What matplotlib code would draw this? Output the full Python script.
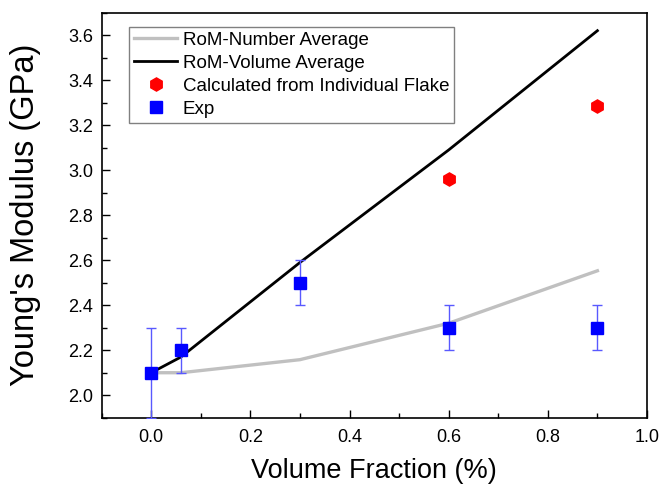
import matplotlib
matplotlib.use("Agg")
import matplotlib.pyplot as plt
from matplotlib.ticker import MultipleLocator, FormatStrFormatter

plt.rcParams['font.family'] = ['Liberation Sans', 'DejaVu Sans']

# Data
rom_x = [0.0, 0.06, 0.3, 0.6, 0.9]
rom_number = [2.10, 2.10, 2.158, 2.32, 2.553]
rom_volume = [2.10, 2.17, 2.59, 3.09, 3.62]
calc_x = [0.6, 0.9]
calc_y = [2.963, 3.287]
exp_x = [0.0, 0.06, 0.3, 0.6, 0.9]
exp_y = [2.1, 2.2, 2.5, 2.3, 2.3]
exp_err = [0.2, 0.1, 0.1, 0.1, 0.1]

fig = plt.figure(figsize=(6.62, 4.88), dpi=100)
ax = fig.add_axes([0.1536, 0.144, 0.8237, 0.830])

ax.plot(rom_x, rom_number, color='#c0c0c0', lw=2.4, label='RoM-Number Average', zorder=2)
ax.plot(rom_x, rom_volume, color='black', lw=2.0, label='RoM-Volume Average', zorder=2)
ax.plot(calc_x, calc_y, 'h', color='red', ms=9.5, mec='red', ls='none',
        label='Calculated from Individual Flake', zorder=3)
ax.errorbar(exp_x, exp_y, yerr=exp_err, fmt='none', ecolor=(0.35, 0.35, 1.0), elinewidth=1.0,
            capsize=3.5, capthick=1.0, zorder=3)
ax.plot(exp_x, exp_y, 's', color='blue', ms=8.5, ls='none', label='Exp', zorder=4)

ax.set_xlim(-0.1, 1.0)
ax.set_ylim(1.9, 3.7)
ax.set_xticks([0.0, 0.2, 0.4, 0.6, 0.8, 1.0])
ax.set_yticks([2.0, 2.2, 2.4, 2.6, 2.8, 3.0, 3.2, 3.4, 3.6])
ax.xaxis.set_minor_locator(MultipleLocator(0.1))
ax.yaxis.set_minor_locator(MultipleLocator(0.1))
ax.xaxis.set_major_formatter(FormatStrFormatter('%.1f'))
ax.yaxis.set_major_formatter(FormatStrFormatter('%.1f'))
ax.tick_params(which='both', direction='in', top=False, right=False, labelsize=13)
ax.tick_params(axis='x', pad=8)
ax.tick_params(axis='y', pad=6)
ax.tick_params(which='major', length=6, width=1)
ax.tick_params(which='minor', length=3.5, width=1)
for s in ax.spines.values():
    s.set_linewidth(1.2)

ax.set_xlabel('Volume Fraction (%)', fontsize=19.5, labelpad=9)
ax.set_ylabel("Young's Modulus (GPa)", fontsize=23.5, labelpad=20)

leg = ax.legend(loc='upper left', bbox_to_anchor=(0.051, 0.965), fontsize=13.5,
                frameon=True, fancybox=False, edgecolor='#808080', framealpha=1,
                handlelength=2.3, borderpad=0.25, labelspacing=0.32, handletextpad=0.3,
                borderaxespad=0)
leg.get_frame().set_linewidth(1.0)

fig.savefig('out.png', dpi=100)
